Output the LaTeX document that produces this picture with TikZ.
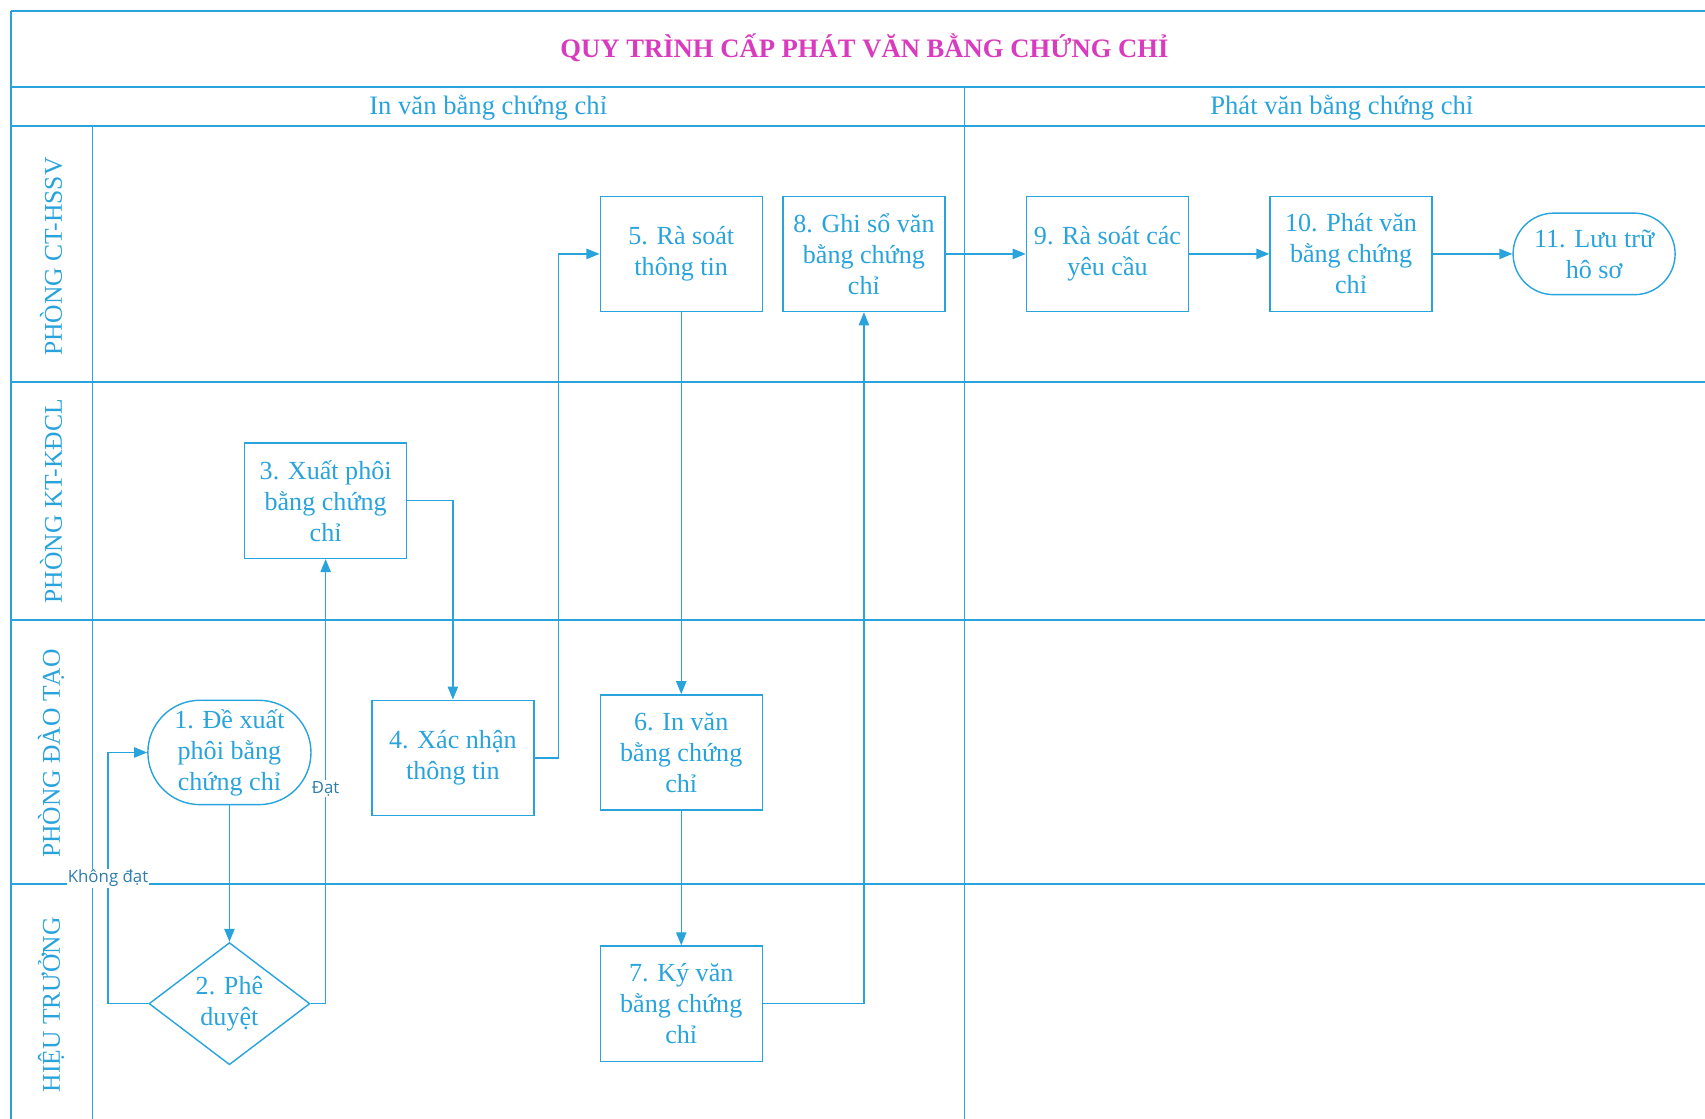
\documentclass[tikz,border=0pt]{standalone}
\usepackage{fontspec}
\setmainfont{Liberation Serif}
\newfontfamily\lblfont{Open Sans}
\usetikzlibrary{arrows.meta,shapes.geometric}
\definecolor{lnblue}{HTML}{29A3DC}
\definecolor{ttl}{HTML}{D93BBE}
\definecolor{lbl}{HTML}{2F7DAA}
\begin{document}
\begin{tikzpicture}[x=1pt,y=-1pt,
  frame/.style={draw=lnblue,line width=1.8pt},
  thinline/.style={draw=lnblue,line width=1.2pt},
  box/.style={draw=lnblue,line width=1.3pt,text=lnblue,align=center,
    minimum width=149pt,minimum height=106pt,inner sep=1pt,
    font=\fontsize{24}{28.5}\selectfont},
  term/.style={box,rounded corners=48pt,minimum height=96pt,minimum width=150pt},
  dec/.style={box,diamond,minimum width=148pt,minimum height=104pt,inner sep=0pt},
  flow/.style={draw=lnblue,line width=1.3pt,-{Triangle[length=12pt,width=9.5pt]}},
  lane/.style={rotate=90,text=lnblue,font=\fontsize{23.5}{26}\selectfont},
  head/.style={text=lnblue,font=\fontsize{24.5}{26}\selectfont},
  cond/.style={text=lbl,fill=white,inner sep=1pt,font=\lblfont\fontsize{15.5}{18}\selectfont}]
\useasboundingbox (0,0) rectangle (1568,1029);
% frame
\draw[frame] (10,10) -- (1568,10);
\draw[frame] (10,80) -- (1568,80);
\draw[frame] (10,116) -- (1568,116);
\draw[frame] (10,351) -- (1568,351);
\draw[frame] (10,570) -- (1568,570);
\draw[frame] (10,813) -- (1568,813);
\draw[frame] (10,10) -- (10,1029);
\draw[thinline] (85,116) -- (85,1029);
\draw[thinline] (887,80) -- (887,1029);
% titles
\node[text=ttl,font=\bfseries\fontsize{24.5}{28}\selectfont] (title) at (795,44) {QUY TRÌNH CẤP PHÁT VĂN BẰNG CHỨNG CHỈ};
\node[head] (h1) at (449,99) {In văn bằng chứng chỉ};
\node[head] (h2) at (1234,99) {Phát văn bằng chứng chỉ};
\node[lane] (l1) at (47,236) {PHÒNG CT-HSSV};
\node[lane] (l2) at (47,461) {PHÒNG KT-KĐCL};
\node[lane] (l3) at (47,693) {PHÒNG ĐÀO TẠO};
\node[lane] (l4) at (47,924) {HIỆU TRƯỞNG};
% nodes
\node[term] (n1) at (211,692) {1. Đề xuất\\phôi bằng\\chứng chỉ};
\node[dec] (n2) at (211,923) {2. Phê\\duyệt};
\node[box] (n3) at (299.5,460.5) {3. Xuất phôi\\bằng chứng\\chỉ};
\node[box] (n4) at (416.5,697) {4. Xác nhận\\thông tin};
\node[box] (n5) at (626.5,233.5) {5. Rà soát\\thông tin};
\node[box] (n6) at (626.5,692) {6. In văn\\bằng chứng\\chỉ};
\node[box] (n7) at (626.5,923) {7. Ký văn\\bằng chứng\\chỉ};
\node[box] (n8) at (794.5,233.5) {8. Ghi sổ văn\\bằng chứng\\chỉ};
\node[box] (n9) at (1018.5,233.5) {9. Rà soát các\\yêu cầu};
\node[box] (n10) at (1242.5,233.5) {10. Phát văn\\bằng chứng\\chỉ};
\node[box,rounded corners=37.5pt,minimum height=75pt] (n11) at (1466,233.5) {11. Lưu trữ\\hô sơ};
% connectors
\draw[flow] (n1) -- (n2);
\draw[flow] (n2.east) -| node[cond,pos=0.742] (lok) {Đạt} (n3.south);
\draw[flow] (n2.west) -- ++(-37,0) |- node[cond,pos=0.25] (lno) {Không đạt} (n1.west);
\draw[flow] (n3.east) -| (n4.north);
\draw[flow] (n4.east) -- ++(22,0) |- (n5.west);
\draw[flow] (n5) -- (n6);
\draw[flow] (n6) -- (n7);
\draw[flow] (n7.east) -| (n8.south);
\draw[flow] (n8) -- (n9);
\draw[flow] (n9) -- (n10);
\draw[flow] (n10) -- (n11);
\end{tikzpicture}
\end{document}
